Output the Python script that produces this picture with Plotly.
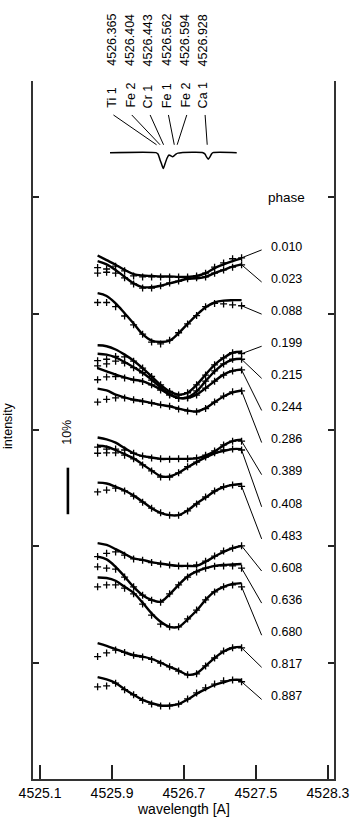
import plotly.graph_objects as go

# ---------------- data ----------------
wave_grid = [4525.74, 4525.84, 4525.94, 4526.04, 4526.14, 4526.24, 4526.34, 4526.44, 4526.54,
             4526.64, 4526.74, 4526.84, 4526.94, 4527.04, 4527.14, 4527.24, 4527.34]

phases = ["0.010", "0.023", "0.088", "0.199", "0.215", "0.244", "0.286", "0.389",
          "0.408", "0.483", "0.608", "0.636", "0.680", "0.817", "0.887"]

model_010 = [112.5, 111.5, 110.5, 109.4, 108.5, 108.2, 108.1, 108.0, 108.0, 107.9, 107.9, 108.1, 108.7, 109.8, 110.6, 111.3, 111.9]
obs_010 = [109.9, 109.6, 110.2, 109.2, 108.1, 107.9, 107.9, 107.9, 107.9, 107.9, 107.9, 108.1, 108.7, 110.0, 110.9, 111.8, 112.0]
model_023 = [111.3, 110.6, 109.4, 107.9, 106.5, 105.7, 105.7, 106.0, 106.5, 107.0, 107.5, 107.6, 107.9, 108.7, 109.4, 110.1, 110.6]
obs_023 = [108.7, 108.9, 108.7, 107.7, 106.4, 105.5, 105.5, 106.0, 106.6, 107.0, 107.5, 107.7, 107.9, 108.7, 109.4, 110.0, 110.5]
model_088 = [104.4, 103.8, 102.2, 100.1, 97.9, 95.6, 94.2, 93.9, 94.2, 95.8, 97.8, 99.7, 101.4, 102.4, 102.8, 102.9, 102.9]
obs_088 = [102.4, 102.4, 101.5, 99.5, 97.6, 95.6, 93.9, 93.5, 94.3, 95.9, 97.8, 99.6, 101.5, 102.2, 102.1, 101.9, 101.7]
model_199 = [93.2, 93.0, 92.3, 91.2, 89.9, 88.3, 86.5, 84.7, 83.3, 82.6, 83.0, 84.7, 86.9, 89.0, 90.5, 91.6, 91.8]
obs_199 = [89.9, 90.2, 90.8, 90.7, 89.8, 88.3, 86.5, 84.7, 83.3, 82.5, 83.0, 84.7, 86.8, 89.0, 90.5, 91.6, 91.4]
model_215 = [91.4, 91.2, 90.6, 89.6, 88.5, 87.3, 85.8, 84.2, 82.7, 81.9, 82.0, 83.3, 85.5, 87.6, 89.2, 90.1, 90.3]
obs_215 = [88.8, 89.2, 89.8, 89.4, 88.4, 87.3, 85.7, 84.1, 82.7, 81.8, 82.0, 83.4, 85.5, 87.7, 89.2, 90.2, 90.2]
model_244 = [88.3, 87.6, 86.9, 86.3, 85.8, 85.5, 84.7, 83.7, 82.6, 81.9, 81.9, 82.6, 84.0, 85.5, 86.9, 87.7, 88.0]
obs_244 = [85.8, 86.4, 86.5, 86.2, 85.8, 85.4, 84.7, 83.6, 82.5, 81.8, 81.9, 82.5, 84.0, 85.5, 86.8, 87.7, 87.9]
model_286 = [83.9, 83.5, 82.6, 82.0, 81.5, 81.2, 80.8, 80.4, 80.1, 79.6, 79.2, 79.0, 79.7, 81.0, 82.2, 83.1, 83.5]
obs_286 = [81.0, 81.6, 81.9, 81.9, 81.5, 81.1, 80.8, 80.4, 80.1, 79.5, 79.1, 78.9, 79.6, 81.0, 82.3, 83.2, 83.4]
model_389 = [73.4, 73.0, 72.3, 71.1, 70.0, 69.4, 69.1, 68.8, 68.8, 68.8, 68.8, 68.9, 69.5, 70.4, 71.7, 72.6, 72.9]
obs_389 = [71.3, 70.9, 70.9, 70.7, 70.0, 69.4, 69.0, 68.8, 68.7, 68.8, 68.8, 69.0, 69.6, 70.5, 71.8, 72.6, 72.6]
model_408 = [71.6, 71.4, 70.7, 69.8, 68.9, 67.6, 66.3, 65.1, 65.0, 65.8, 67.0, 68.1, 69.1, 70.0, 70.5, 70.9, 70.9]
obs_408 = [70.0, 70.1, 70.1, 69.6, 68.8, 67.5, 66.2, 64.9, 64.9, 65.8, 67.1, 68.1, 69.2, 70.1, 70.7, 70.9, 70.7]
model_483 = [63.7, 63.5, 62.8, 62.0, 60.9, 59.6, 58.2, 57.2, 56.7, 56.7, 57.7, 59.2, 60.5, 61.8, 62.7, 63.2, 63.4]
obs_483 = [61.7, 62.1, 62.5, 61.9, 60.8, 59.5, 58.2, 57.2, 56.7, 56.7, 57.6, 59.1, 60.6, 61.9, 62.8, 63.2, 62.9]
model_608 = [50.7, 50.3, 49.4, 48.4, 47.4, 47.1, 46.6, 46.3, 46.0, 45.8, 45.8, 45.8, 46.7, 47.8, 48.8, 49.6, 50.1]
obs_608 = [47.8, 48.5, 48.8, 48.1, 47.3, 47.0, 46.5, 46.2, 46.0, 45.8, 45.8, 46.0, 46.8, 47.9, 49.0, 49.6, 50.1]
model_636 = [47.8, 47.2, 45.6, 43.5, 41.3, 39.5, 38.5, 38.1, 39.7, 41.7, 43.5, 44.6, 45.3, 45.8, 46.0, 46.1, 46.2]
obs_636 = [45.6, 45.3, 45.1, 43.4, 41.3, 39.5, 38.4, 38.0, 39.8, 41.7, 43.4, 44.5, 45.3, 45.7, 45.8, 45.8, 45.3]
model_680 = [43.3, 43.2, 42.6, 41.3, 40.0, 37.9, 35.6, 33.8, 32.7, 32.7, 34.3, 36.2, 38.5, 40.3, 41.3, 41.9, 42.1]
obs_680 = [41.3, 41.7, 41.7, 41.0, 39.8, 37.6, 35.2, 33.3, 32.7, 32.7, 34.4, 36.3, 38.5, 40.2, 41.3, 41.7, 41.3]
model_817 = [29.2, 28.6, 27.9, 27.2, 26.6, 26.3, 25.8, 25.0, 24.1, 23.3, 22.4, 22.7, 24.3, 26.0, 27.4, 28.2, 28.4]
obs_817 = [26.3, 27.1, 27.7, 27.2, 26.6, 26.2, 25.7, 24.9, 24.1, 23.2, 22.4, 22.6, 24.3, 26.0, 27.5, 28.2, 28.2]
model_887 = [21.9, 21.4, 20.6, 19.3, 18.1, 17.0, 16.3, 15.8, 15.8, 16.1, 17.1, 18.3, 19.3, 20.2, 20.8, 21.3, 21.3]
obs_887 = [19.8, 20.0, 20.6, 19.2, 18.1, 16.9, 16.1, 15.7, 15.7, 16.1, 17.2, 18.5, 19.6, 20.4, 21.1, 21.3, 20.9]

models = [model_010, model_023, model_088, model_199, model_215, model_244, model_286, model_389,
          model_408, model_483, model_608, model_636, model_680, model_817, model_887]
observed = [obs_010, obs_023, obs_088, obs_199, obs_215, obs_244, obs_286, obs_389,
            obs_408, obs_483, obs_608, obs_636, obs_680, obs_817, obs_887]

# synthetic reference spectrum (top)
synth_wave = [4525.878, 4526.389, 4526.411, 4526.433, 4526.450, 4526.470, 4526.489, 4526.511, 4526.533,
              4526.556, 4526.572, 4526.589, 4526.611, 4526.633, 4526.667, 4526.911, 4526.933, 4526.950,
              4526.970, 4526.989, 4527.006, 4527.022, 4527.286]
synth_flux = [134.6, 134.6, 134.3, 133.1, 132.2, 131.2, 132.2, 133.4, 134.1,
              133.9, 133.7, 133.9, 134.3, 134.5, 134.6, 134.6, 134.3, 133.7,
              133.2, 133.7, 134.3, 134.6, 134.6]

line_ions = ["Ti 1", "Fe 2", "Cr 1", "Fe 1", "Fe 2", "Ca 1"]
line_waves = [4526.365, 4526.404, 4526.443, 4526.562, 4526.594, 4526.928]

scale_bar_percent = 10
xtick_vals = [4525.1, 4525.9, 4526.7, 4527.5, 4528.3]

# ---------------- layout constants ----------------
W, H = 350, 819
ML, MR, MT, MB = 33, 16, 81, 40
X_RANGE = [4525.022, 4528.367]
Y_RANGE = [0, 150]
FONT = "Liberation Sans"
INK = "black"

label_x = 4527.835      # centre of phase labels
leader_end_x = 4527.563
label_top = 114.4
label_step = 6.9
phase_head_y = 124.9

col_x0 = 4525.897       # element label columns
col_step = 0.2037
lead_top_y = 142.7
lead_bot_y = 136.3
line_shift = 0.03

bar_x = 4525.41
bar_center = 61.9

fig = go.Figure()

# synthetic spectrum
fig.add_trace(go.Scatter(x=synth_wave, y=synth_flux, mode="lines",
                         line=dict(color=INK, width=1.5, shape="spline", smoothing=0.6),
                         hoverinfo="skip"))

# element leader lines
for i, lw in enumerate(line_waves):
    cx = col_x0 + i * col_step + 0.019
    fig.add_trace(go.Scatter(x=[cx, lw + line_shift], y=[lead_top_y, lead_bot_y], mode="lines",
                             line=dict(color=INK, width=1), hoverinfo="skip"))

# spectra
for i, ph in enumerate(phases):
    fig.add_trace(go.Scatter(x=wave_grid, y=models[i], mode="lines",
                             line=dict(color=INK, width=2.4, shape="spline", smoothing=1.0),
                             hoverinfo="skip"))
    fig.add_trace(go.Scatter(x=wave_grid, y=observed[i], mode="markers",
                             marker=dict(symbol="cross-thin", size=5, color=INK,
                                         line=dict(color=INK, width=1.3)),
                             hoverinfo="skip"))
    ly = label_top - i * label_step
    fig.add_trace(go.Scatter(x=[wave_grid[-1], leader_end_x], y=[observed[i][-1], ly - 0.7],
                             mode="lines", line=dict(color=INK, width=1), hoverinfo="skip"))

# 10% scale bar
fig.add_trace(go.Scatter(x=[bar_x, bar_x],
                         y=[bar_center - scale_bar_percent / 2, bar_center + scale_bar_percent / 2],
                         mode="lines", line=dict(color=INK, width=2.6), hoverinfo="skip"))

annotations = []
for i, ph in enumerate(phases):
    annotations.append(dict(x=label_x, y=label_top - i * label_step, xref="x", yref="y",
                            text=ph, showarrow=False, xanchor="center", yanchor="middle",
                            font=dict(family=FONT, size=12.5, color=INK)))
annotations.append(dict(x=label_x, y=phase_head_y, xref="x", yref="y", text="phase",
                        showarrow=False, xanchor="center", yanchor="middle",
                        font=dict(family=FONT, size=13.5, color=INK)))
annotations.append(dict(x=bar_x - 0.005, y=74.5, xref="x", yref="y", text="10%", textangle=-90,
                        showarrow=False, xanchor="center", yanchor="middle",
                        font=dict(family=FONT, size=12.5, color=INK)))

plot_h = H - MT - MB
def paper_y(px):
    return (H - MB - px) / plot_h

for i, (ion, lw) in enumerate(zip(line_ions, line_waves)):
    cx = col_x0 + i * col_step
    annotations.append(dict(x=cx, y=paper_y(110), xref="x", yref="paper", text=ion, textangle=-90,
                            showarrow=False, xanchor="center", yanchor="bottom",
                            font=dict(family=FONT, size=12.5, color=INK)))
    annotations.append(dict(x=cx, y=paper_y(68), xref="x", yref="paper", text=f"{lw:.3f}",
                            textangle=-90, showarrow=False, xanchor="center", yanchor="bottom",
                            font=dict(family=FONT, size=12.5, color=INK)))

annotations.append(dict(x=0.5, y=paper_y(809), xref="paper", yref="paper", text="wavelength [A]",
                        showarrow=False, xanchor="center", yanchor="middle",
                        font=dict(family=FONT, size=14, color=INK)))
annotations.append(dict(x=(8 - ML) / (W - ML - MR), y=paper_y(426), xref="paper", yref="paper",
                        text="intensity", textangle=-90, showarrow=False,
                        xanchor="center", yanchor="middle",
                        font=dict(family=FONT, size=12.5, color=INK)))

fig.update_layout(
    width=W, height=H, margin=dict(l=ML, r=MR, t=MT, b=MB, autoexpand=False),
    paper_bgcolor="white", plot_bgcolor="white", showlegend=False,
    annotations=annotations,
    xaxis=dict(range=X_RANGE, tickvals=xtick_vals, ticktext=[f"{v:.1f}" for v in xtick_vals],
               ticks="inside", ticklen=14, tickwidth=1.5, tickcolor="#222",
               showline=True, linecolor="#333", linewidth=2, mirror=False,
               showgrid=False, zeroline=False,
               tickfont=dict(family=FONT, size=14, color=INK)),
    yaxis=dict(range=Y_RANGE, dtick=25, tick0=0, ticks="inside", ticklen=6, tickwidth=1.5,
               tickcolor="#222", showticklabels=False,
               showline=True, linecolor="#333", linewidth=2, mirror="ticks",
               showgrid=False, zeroline=False),
)

fig.write_html("out.html", config={"displayModeBar": False},
               post_script="document.body.style.margin='0';document.body.style.overflow='hidden';")
